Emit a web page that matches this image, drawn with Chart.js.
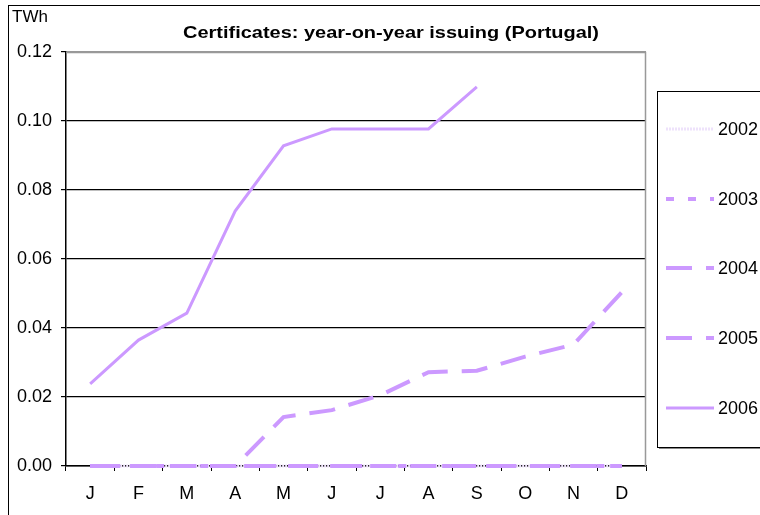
<!DOCTYPE html>
<html>
<head>
<meta charset="utf-8">
<title>Certificates: year-on-year issuing (Portugal)</title>
<script src="https://cdn.jsdelivr.net/npm/chart.js@4"></script>
<style>
  body { margin: 0; background: #fff; }
  canvas { display: block; }
</style>
</head>
<body>
<canvas id="certChart" width="760" height="515"></canvas>
<script>
const months = ['J', 'F', 'M', 'A', 'M', 'J', 'J', 'A', 'S', 'O', 'N', 'D'];
const years = ['2002', '2003', '2004', '2005', '2006'];
const yTicks = [0, 0.02, 0.04, 0.06, 0.08, 0.10, 0.12];

const issued2002 = [0, 0, 0, 0, 0, 0, 0, 0, 0, 0, 0, 0];
const issued2003 = [0, 0, 0, 0, 0, 0, 0, 0, 0, 0, 0, 0];
const issued2004 = [0, 0, 0, 0, 0, 0, 0, 0, 0, 0, 0, 0];
const issued2005 = [0, 0, 0, 0, 0.0142, 0.0162, 0.0205, 0.0272, 0.0276, 0.0317, 0.0352, 0.0504];
const issued2006 = [0.0238, 0.0365, 0.0443, 0.0739, 0.0928, 0.0977, 0.0977, 0.0977, 0.1099, null, null, null];

const FONT = '"Liberation Sans", Arial, sans-serif';
const LILAC = '#cc99ff';
const PALE = '#eee2fb';

// styles per year, also used for the hand-drawn legend
const seriesStyle = [
  { color: PALE, width: 3, dash: [2, 1] },
  { color: LILAC, width: 4, dash: [8, 14] },
  { color: LILAC, width: 4, dash: [26, 14] },
  { color: LILAC, width: 4, dash: [26, 14] },
  { color: LILAC, width: 3, dash: [] },
];
const seriesData = [issued2002, issued2003, issued2004, issued2005, issued2006];

const datasets = years.map((yr, i) => ({
  label: yr,
  data: seriesData[i],
  borderColor: seriesStyle[i].color,
  borderWidth: seriesStyle[i].width,
  borderDash: seriesStyle[i].dash,
  borderCapStyle: 'butt',
  pointRadius: 0,
  tension: 0,
  spanGaps: false,
  clip: 6,
  order: years.length - i, // later years painted on top
}));

// squeeze/stretch text horizontally to a target width
function fitText(c, text, cx, cy, width) {
  const w = c.measureText(text).width;
  c.save();
  c.translate(cx, cy);
  c.scale(width / w, 1);
  c.fillText(text, 0, 0);
  c.restore();
}

// frame, title, unit label, plot border and legend box
const decorations = {
  id: 'decorations',
  beforeDraw(chart) {
    const c = chart.ctx;
    c.save();
    c.strokeStyle = '#000';
    c.lineWidth = 1;
    c.strokeRect(8.5, 5.5, 800, 600);
    c.restore();
  },
  afterDraw(chart) {
    const c = chart.ctx;
    const a = chart.chartArea;
    c.save();
    // grey plot area border on top and right
    c.strokeStyle = '#999';
    c.lineWidth = 1.5;
    c.beginPath();
    c.moveTo(a.left, a.top + 0.5);
    c.lineTo(a.right - 0.5, a.top + 0.5);
    c.lineTo(a.right - 0.5, a.bottom);
    c.stroke();

    c.fillStyle = '#000';
    c.textBaseline = 'middle';
    c.font = 'bold 17px ' + FONT;
    c.textAlign = 'center';
    fitText(c, 'Certificates: year-on-year issuing (Portugal)', 391, 33, 416);
    c.font = '17px ' + FONT;
    c.textAlign = 'left';
    c.fillText('TWh', 12, 17);

    // legend
    const lx = 657, ly = 91, lh = 356;
    c.fillStyle = '#888';
    c.fillRect(lx + 2, ly + lh, 200, 2);
    c.strokeStyle = '#000';
    c.lineWidth = 1;
    c.fillStyle = '#fff';
    c.fillRect(lx, ly, 200, lh);
    c.strokeRect(lx + 0.5, ly + 0.5, 200, lh);
    const rows = [129, 199, 268, 338, 408];
    years.forEach((yr, i) => {
      const s = seriesStyle[i];
      c.strokeStyle = s.color;
      c.lineWidth = s.width;
      c.setLineDash(s.dash);
      c.beginPath();
      c.moveTo(666, rows[i]);
      c.lineTo(714, rows[i]);
      c.stroke();
      c.setLineDash([]);
      c.fillStyle = '#000';
      c.font = '18px ' + FONT;
      c.fillText(yr, 718, rows[i] + 1);
    });
    c.restore();
  },
};

new Chart(document.getElementById('certChart').getContext('2d'), {
  type: 'line',
  data: { labels: months, datasets: datasets },
  options: {
    responsive: false,
    animation: false,
    layout: { padding: { top: 52, right: 114, left: 8, bottom: 0 } },
    scales: {
      x: {
        offset: true,
        grid: {
          offset: true,
          drawOnChartArea: false,
          color: '#000',
          tickLength: 5,
        },
        border: { color: '#000', width: 1.5 },
        ticks: { color: '#000', padding: 12, font: { family: FONT, size: 18 } },
        afterFit(scale) { scale.height = 49; },
      },
      y: {
        min: 0,
        max: 0.12,
        afterBuildTicks(scale) { scale.ticks = yTicks.map(v => ({ value: v })); },
        grid: {
          color: ctx => (ctx.tick && ctx.tick.value >= 0.12 ? '#999' : '#000'),
          tickColor: '#000',
          tickLength: 5,
          lineWidth: 1.2,
        },
        border: { color: '#000', width: 1.5 },
        ticks: {
          color: '#000',
          padding: 9,
          font: { family: FONT, size: 18 },
          callback: v => Number(v).toFixed(2),
        },
        afterFit(scale) { scale.width = 58; },
      },
    },
    plugins: {
      legend: { display: false },
      tooltip: { enabled: false },
    },
  },
  plugins: [decorations],
});
</script>
</body>
</html>
